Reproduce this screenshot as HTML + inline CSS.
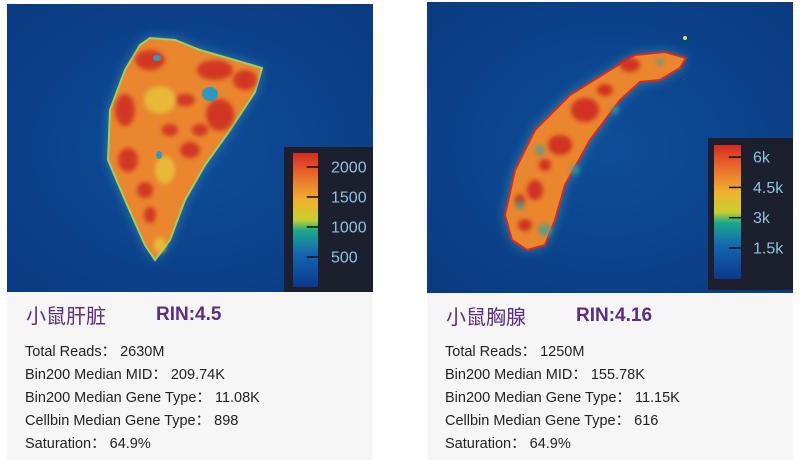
<!DOCTYPE html>
<html><head><meta charset="utf-8"><style>
body{margin:0;width:800px;height:466px;background:#fff;position:relative;overflow:hidden;font-family:"Liberation Sans","Noto Sans CJK SC",sans-serif}
.card{position:absolute;background:#f6f6f6}
.title{position:absolute;top:8px;font-size:20px;color:#5b2d86}
.rin{font-weight:bold;top:12px;font-size:19px}
.stat{position:absolute;left:18px;font-size:14.5px;color:#222}
</style></head><body>
<svg width="800" height="466" style="position:absolute;left:0;top:0">
<defs>
<linearGradient id="jet" x1="0" y1="1" x2="0" y2="0">
<stop offset="0" stop-color="#0b3a8c"/><stop offset="0.25" stop-color="#1466b0"/>
<stop offset="0.42" stop-color="#19a98a"/><stop offset="0.5" stop-color="#c8cf2e"/>
<stop offset="0.65" stop-color="#f0b030"/><stop offset="0.85" stop-color="#e8652a"/>
<stop offset="1" stop-color="#d42a22"/></linearGradient>
<radialGradient id="bg" cx="0.5" cy="0.5" r="0.7"><stop offset="0" stop-color="#0f4d98"/><stop offset="1" stop-color="#0a3a82"/></radialGradient>
<filter id="glow"><feGaussianBlur stdDeviation="6"/></filter>
<filter id="soft"><feGaussianBlur stdDeviation="2"/></filter>
</defs>
<g>
<rect x="7" y="4" width="366" height="288" fill="url(#bg)"/>
<path d="M150,38 L175,40 200,50 262,68 255,92 230,130 205,165 185,200 170,240 155,260 145,245 125,200 108,160 110,110 125,70 140,45Z" fill="#3fa3c0" filter="url(#glow)" opacity="0.7"/>
<path d="M150,38 L175,40 200,50 262,68 255,92 230,130 205,165 185,200 170,240 155,260 145,245 125,200 108,160 110,110 125,70 140,45Z" fill="#e9862e" stroke="#9fd05a" stroke-width="2"/>
<g fill="#cf2a20" filter="url(#soft)" opacity="0.85">
<ellipse cx="150" cy="60" rx="15" ry="10"/><ellipse cx="215" cy="70" rx="18" ry="10"/>
<ellipse cx="245" cy="80" rx="12" ry="10"/><ellipse cx="220" cy="115" rx="14" ry="16"/>
<ellipse cx="125" cy="110" rx="10" ry="16"/><ellipse cx="128" cy="160" rx="10" ry="12"/>
<ellipse cx="185" cy="100" rx="10" ry="6"/><ellipse cx="190" cy="150" rx="10" ry="8"/>
<ellipse cx="145" cy="190" rx="8" ry="8"/><ellipse cx="170" cy="130" rx="8" ry="6"/>
<ellipse cx="200" cy="130" rx="8" ry="6"/><ellipse cx="150" cy="215" rx="6" ry="8"/>
</g>
<g fill="#e8c63a" filter="url(#soft)" opacity="0.8">
<ellipse cx="160" cy="100" rx="16" ry="14"/><ellipse cx="165" cy="170" rx="10" ry="14"/><ellipse cx="160" cy="245" rx="6" ry="8"/>
</g>
<ellipse cx="210" cy="94" rx="8" ry="7" fill="#2a9ac0"/><ellipse cx="157" cy="58" rx="4" ry="3" fill="#2a9ac0"/><ellipse cx="159" cy="155" rx="3" ry="4" fill="#2a9ac0"/>
</g>
<g>
<rect x="284" y="147" width="89" height="145" fill="#1c1f2e"/>
<rect x="293" y="153" width="25" height="134" fill="url(#jet)"/>
<g id="lt"></g>
</g>
<g>
<rect x="427" y="2" width="366" height="291" fill="url(#bg)"/>
<path d="M686,58 L665,52 635,55 610,70 570,95 535,130 515,170 505,215 512,240 527,250 545,245 555,220 565,185 590,140 620,100 640,82 660,80 680,68Z" fill="#3fa3c0" filter="url(#glow)" opacity="0.7"/>
<path d="M686,58 L665,52 635,55 610,70 570,95 535,130 515,170 505,215 512,240 527,250 545,245 555,220 565,185 590,140 620,100 640,82 660,80 680,68Z" fill="#e9862e" stroke="#d42a22" stroke-width="2"/>
<g fill="#cf2a20" filter="url(#soft)" opacity="0.9">
<ellipse cx="585" cy="110" rx="14" ry="12"/><ellipse cx="560" cy="145" rx="12" ry="10"/>
<ellipse cx="630" cy="65" rx="10" ry="7"/><ellipse cx="535" cy="190" rx="8" ry="10"/>
<ellipse cx="605" cy="90" rx="8" ry="6"/><ellipse cx="525" cy="225" rx="7" ry="6"/>
<ellipse cx="545" cy="165" rx="6" ry="6"/><ellipse cx="520" cy="200" rx="5" ry="6"/>
</g>
<g fill="#2aa8a0" filter="url(#soft)" opacity="0.7">
<ellipse cx="540" cy="150" rx="5" ry="5"/><ellipse cx="575" cy="170" rx="5" ry="5"/><ellipse cx="545" cy="230" rx="7" ry="6"/><ellipse cx="615" cy="110" rx="4" ry="4"/><ellipse cx="520" cy="205" rx="4" ry="5"/><ellipse cx="660" cy="62" rx="4" ry="3"/>
</g>
<circle cx="685" cy="38" r="2" fill="#d8e04a"/>
</g>
<g>
<rect x="708" y="138" width="85" height="152" fill="#1c1f2e"/>
<rect x="714" y="145" width="27" height="134" fill="url(#jet)"/>
<g id="rt"></g>
</g>
</svg>
<div class="card" style="left:7px;top:292px;width:366px;height:168px">
<div class="title" style="left:19px">小鼠肝脏</div>
<div class="title rin" style="left:149px">RIN:4.5</div>
<div class="stat" style="top:48px">Total Reads：&nbsp;2630M</div>
<div class="stat" style="top:71px">Bin200 Median MID：&nbsp;209.74K</div>
<div class="stat" style="top:94px">Bin200 Median Gene Type：&nbsp;11.08K</div>
<div class="stat" style="top:117px">Cellbin Median Gene Type：&nbsp;898</div>
<div class="stat" style="top:140px">Saturation：&nbsp;64.9%</div>
</div>
<div class="card" style="left:427px;top:293px;width:366px;height:167px">
<div class="title" style="left:19px">小鼠胸腺</div>
<div class="title rin" style="left:149px">RIN:4.16</div>
<div class="stat" style="top:47px">Total Reads：&nbsp;1250M</div>
<div class="stat" style="top:70px">Bin200 Median MID：&nbsp;155.78K</div>
<div class="stat" style="top:93px">Bin200 Median Gene Type：&nbsp;11.15K</div>
<div class="stat" style="top:116px">Cellbin Median Gene Type：&nbsp;616</div>
<div class="stat" style="top:139px">Saturation：&nbsp;64.9%</div>
</div>
<script>
const liverTicks=[500,1000,1500,2000];
const liverLabels=["500","1000","1500","2000"];
const liverRange=[0,2233];
const thymusTicks=[1500,3000,4500,6000];
const thymusLabels=["1.5k","3k","4.5k","6k"];
const thymusRange=[-35,6600];
const NS="http://www.w3.org/2000/svg";
function drawTicks(gid,ticks,labels,range,x0,w,y0,h,tx){
  const g=document.getElementById(gid);
  const sc=v=>y0+h-(v-range[0])/(range[1]-range[0])*h;
  ticks.forEach((v,i)=>{
    const y=sc(v);
    const l=document.createElementNS(NS,'line');
    l.setAttribute('x1',x0+w*0.55);l.setAttribute('x2',x0+w);l.setAttribute('y1',y);l.setAttribute('y2',y);
    l.setAttribute('stroke','#111');l.setAttribute('stroke-width','1.5');
    
    
    g.appendChild(l);
    const t=document.createElementNS(NS,'text');
    t.setAttribute('x',tx);t.setAttribute('y',y+5.5);t.setAttribute('fill','#8ec3e0');
    t.setAttribute('font-size','16');t.setAttribute('font-family','Liberation Sans, sans-serif');
    t.textContent=labels[i];
    
    
    g.appendChild(t);
  });
}
drawTicks('lt',liverTicks,liverLabels,liverRange,293,25,153,134,331);
drawTicks('rt',thymusTicks,thymusLabels,thymusRange,714,27,145,134,753);
</script>
</body></html>
